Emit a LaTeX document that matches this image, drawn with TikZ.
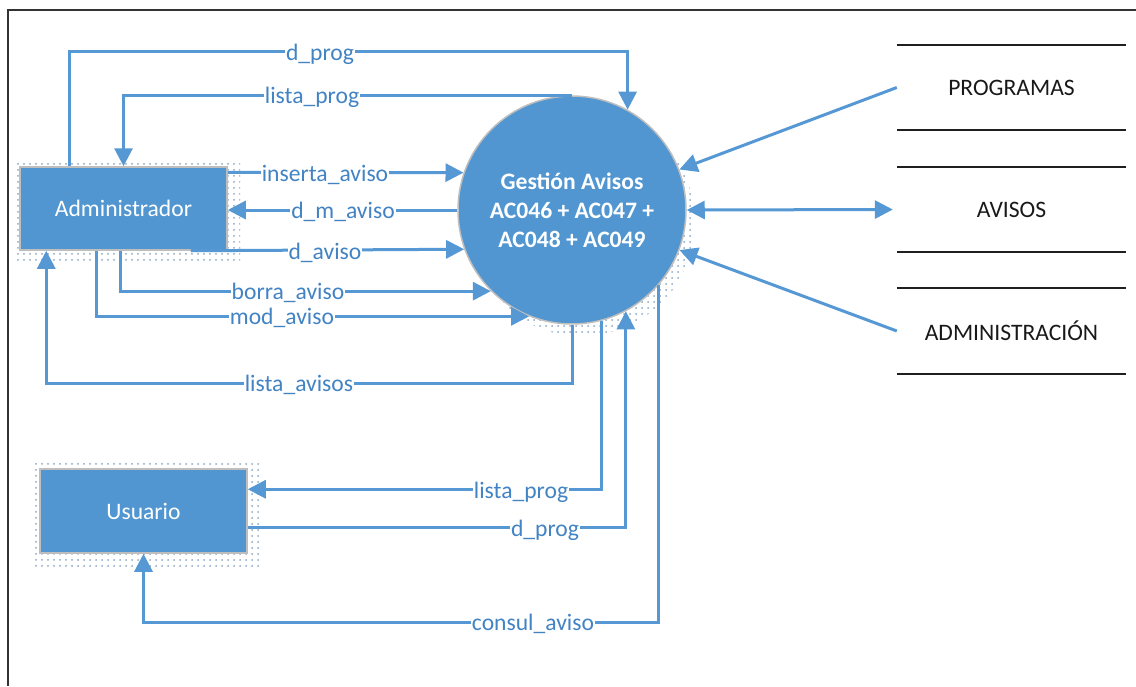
\documentclass[tikz,border=0pt]{standalone}
\usepackage{fontspec}
\setmainfont{Carlito}
\usetikzlibrary{arrows.meta,patterns.meta}
\definecolor{boxblue}{RGB}{81,150,208}
\definecolor{lineblue}{RGB}{86,152,211}
\definecolor{lblblue}{RGB}{66,131,196}
\definecolor{shadowdot}{RGB}{140,165,195}
\definecolor{boxborder}{RGB}{190,190,190}
\begin{document}
\begin{tikzpicture}[x=1pt,y=-1pt,
  basefont/.style={font=\fontsize{23.6}{27}\selectfont},
  flow/.style={draw=lineblue, line width=3pt},
  arr/.style={-{Triangle[length=18pt,width=18pt]}},
  darr/.style={{Triangle[length=18pt,width=18pt]}-{Triangle[length=18pt,width=18pt]}},
  lbl/.style={basefont, text=lblblue, fill=white, inner sep=1pt, anchor=base},
  entity/.style={basefont, rectangle, fill=boxblue, draw=boxborder, line width=1.5pt, minimum width=207pt, minimum height=83pt, text=white, inner sep=0pt},
  proc/.style={circle, fill=boxblue, draw=boxborder, line width=1.5pt, minimum size=228pt, inner sep=0pt, text=white, align=center, font=\fontsize{23.6}{29}\selectfont\bfseries},
  store/.style={basefont, minimum width=229pt, minimum height=85pt, inner sep=0pt, text=black!90},
  storeline/.style={draw=black!88, line width=2pt},
  shadow/.style={pattern={Dots[distance=6pt,radius=1pt]}, pattern color=shadowdot}
]
\useasboundingbox (0,0) rectangle (1136,686);
\draw[line width=1.5pt, draw=black!80] (1136,10) -- (8,10) -- (8,686);

% shadows
\fill[shadow] (15,160) rectangle (240,263);
\fill[shadow] (35,462) rectangle (259,566);
\fill[shadow] (581,222) circle (114);

% nodes
\node[entity] (adm) at (123.5,208.5) {Administrador};
\node[entity, minimum height=84pt] (usr) at (143.5,511) {Usuario};
\node[proc] (c) at (572,210) {Gestión Avisos\\AC046 + AC047 +\\AC048 + AC049};

\node[store] (sprog) at (1011.5,87.5) {PROGRAMAS};
\node[store] (savis) at (1011.5,209.5) {AVISOS};
\node[store] (sadm) at (1011.5,331) {ADMINISTRACIÓN};
\foreach \s in {sprog,savis,sadm}{
  \draw[storeline] (\s.north west) -- (\s.north east);
  \draw[storeline] (\s.south west) -- (\s.south east);
}

% connectors
\draw[flow,arr] ([xshift=50pt]adm.north west) -- ++(0,-115) -| (c.61.2);
\draw[flow,arr] (c.90) -| (adm.north);
\draw[flow,arr] ([yshift=-6pt]adm.north east) -- (c.161.1);
\draw[flow,arr] (c.180) -- (c.180 -| adm.east);
\draw[flow,arr] ([xshift=-37pt]adm.south east) -- (c.200.5);
\draw[flow,arr] ([xshift=-3.5pt]adm.south) |- (c.225.3);
\draw[flow,arr] ([xshift=-27.5pt]adm.south) |- (c.248.4);
\draw[flow,arr] (c.270) -- ++(0,59) -| ([xshift=27pt]adm.south west);
\draw[flow,arr] (c.285.8) |- ([yshift=-21pt]usr.north east);
\draw[flow,arr] ([yshift=-59pt]usr.north east) -| (c.298.3);
\draw[flow,arr] (c.319) -- ++(0,337) -| (usr.south);
\draw[flow,arr] (sprog.west) -- (c);
\draw[flow,darr, shorten >=4pt] (c.0) -- (savis.west);
\draw[flow,arr] (sadm.west) -- (c);

% labels
\node[lbl] (l1) at (320,60.5) {d\_prog};
\node[lbl] (l2) at (312,103) {lista\_prog};
\node[lbl] (l3) at (325,181.5) {inserta\_aviso};
\node[lbl] (l4) at (343,218.5) {d\_m\_aviso};
\node[lbl] (l5) at (325,259.5) {d\_aviso};
\node[lbl] (l6) at (288,299.5) {borra\_aviso};
\node[lbl] (l7) at (282,324.5) {mod\_aviso};
\node[lbl] (l8) at (299,391.5) {lista\_avisos};
\node[lbl] (l9) at (521,498.5) {lista\_prog};
\node[lbl] (l10) at (545,536.5) {d\_prog};
\node[lbl] (l11) at (533,630.5) {consul\_aviso};
\end{tikzpicture}
\end{document}
